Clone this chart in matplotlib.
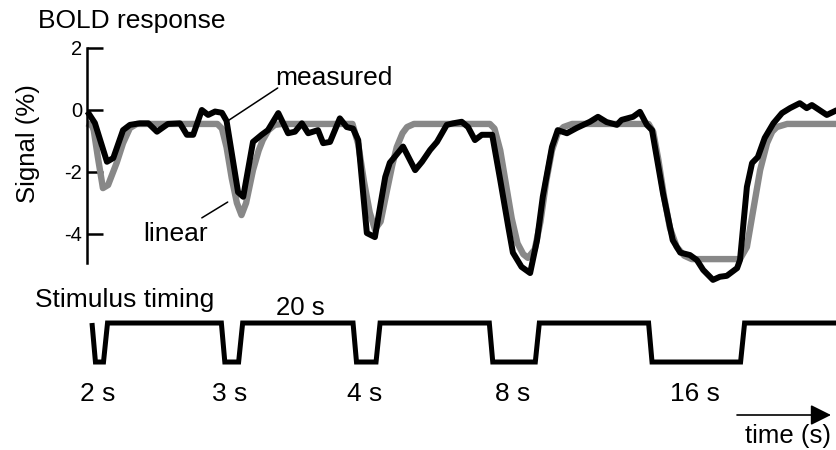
import matplotlib
matplotlib.use("Agg")
import matplotlib.pyplot as plt

plt.rcParams["font.family"] = ["Liberation Sans", "DejaVu Sans"]

# ---- data -------------------------------------------------------------
# measured BOLD signal (% change) against time (s)
t_meas = [-0.8, 0.5, 2.6, 3.7, 5.4, 6.6, 8.3, 9.8, 11.3, 13.2, 15.3, 16.5, 17.6,
          19.1, 20.2, 21.4, 22.6, 23.4, 25.4, 26.3, 28.0, 29.5, 30.6, 32.4, 34.1,
          35.3, 36.5, 37.6, 39.3, 40.2, 41.4, 43.1, 44.3, 45.4, 46.3, 47.8, 49.2,
          51.0, 51.8, 52.7, 54.1, 56.2, 57.4, 58.8, 60.0, 61.7, 62.8, 64.3, 65.4,
          66.6, 67.8, 69.6, 71.0, 72.4, 73.2, 74.7, 76.2, 77.4, 78.4, 80.0, 81.0,
          82.6, 84.3, 86.6, 88.0, 89.5, 91.3, 92.1, 94.1, 95.3, 96.5, 97.4, 99.3,
          101.0, 102.3, 104.0, 105.2, 106.3, 108.0, 109.2, 110.4, 112.2, 112.7,
          113.9, 114.8, 115.8, 117.0, 118.5, 120.0, 121.4, 123.1, 124.3, 125.2,
          127.8, 129.6]
sig_meas = [-0.05, -0.42, -1.67, -1.55, -0.65, -0.48, -0.43, -0.43, -0.70, -0.45,
            -0.43, -0.80, -0.80, 0.00, -0.16, -0.05, -0.09, -0.35, -2.65, -2.80,
            -1.03, -0.80, -0.65, -0.10, -0.75, -0.70, -0.43, -0.75, -0.65, -1.07,
            -1.03, -0.27, -0.55, -0.60, -0.97, -3.97, -4.10, -2.16, -1.70, -1.50,
            -1.18, -1.94, -1.67, -1.29, -1.03, -0.48, -0.43, -0.38, -0.55, -0.97,
            -0.80, -0.80, -2.26, -3.77, -4.60, -5.06, -5.26, -4.20, -2.80, -1.19,
            -0.65, -0.75, -0.58, -0.38, -0.22, -0.39, -0.48, -0.32, -0.22, -0.06,
            -0.48, -0.65, -2.68, -4.20, -4.60, -4.68, -4.84, -5.16, -5.48, -5.38,
            -5.35, -5.10, -4.84, -2.48, -1.71, -1.52, -0.90, -0.43, -0.10, 0.06,
            0.22, 0.06, 0.16, -0.16, 0.00]

# linear prediction (% change) against time (s)
t_lin = [-0.9, 0.0, 0.3, 1.0, 1.9, 2.8, 4.3, 5.4, 6.6, 7.8,
         21.8, 22.6, 23.4, 24.3, 25.2, 26.0, 26.8, 28.0, 29.0, 29.7, 30.7, 31.8, 33.0,
         45.3, 46.3, 47.3, 48.3, 49.2, 50.2, 51.3, 52.2, 53.0, 54.0, 54.8, 56.0,
         69.2, 70.0, 71.0, 72.0, 73.0, 74.0, 75.0, 75.8, 77.0, 78.0, 79.0, 80.0,
         81.0, 82.0, 83.5,
         96.8, 97.6, 98.5, 99.5, 100.5, 101.7, 103.0, 104.3, 112.7, 113.9, 115.0,
         116.2, 117.4, 118.3, 119.1, 120.9, 129.6]
sig_lin = [-0.43, -0.50, -0.65, -1.50, -2.52, -2.42, -1.70, -1.07, -0.58, -0.45,
           -0.45, -0.60, -1.20, -2.20, -3.00, -3.39, -3.00, -1.94, -1.30, -0.97, -0.65, -0.48, -0.45,
           -0.45, -1.10, -2.30, -3.30, -3.85, -3.60, -2.60, -1.80, -1.20, -0.75, -0.55, -0.45,
           -0.45, -0.60, -1.30, -2.40, -3.50, -4.30, -4.65, -4.77, -4.50, -3.60, -2.30, -1.30,
           -0.75, -0.55, -0.45,
           -0.45, -0.70, -1.60, -2.80, -3.80, -4.42, -4.70, -4.81, -4.81, -4.42, -3.23,
           -1.94, -1.07, -0.70, -0.55, -0.45, -0.45]

# stimulus blocks: onset (s) and duration (s)
stim_onsets = [0.0, 22.5, 45.4, 69.1, 96.8]
stim_durations = [2, 3, 4, 8, 16]
stim_labels = ["2 s", "3 s", "4 s", "8 s", "16 s"]
rest_label = "20 s"
y_ticks = [2, 0, -2, -4]

# ---- figure -----------------------------------------------------------
W, H = 837, 450
fig = plt.figure(figsize=(W / 100, H / 100), dpi=100)

t_min, t_max = -16.0, 129.57

ax = fig.add_axes([0, 0, 1, 1])
ax.set_xlim(t_min, t_max)
ax.set_ylim(-10.968, 3.548)
ax.patch.set_alpha(0)

ax.plot(t_lin, sig_lin, color="#888888", lw=4.6, solid_joinstyle="round",
        solid_capstyle="butt", zorder=2)
ax.plot(t_meas, sig_meas, color="black", lw=4.3, solid_joinstyle="round",
        solid_capstyle="butt", zorder=3)

for s in ("top", "right", "bottom"):
    ax.spines[s].set_visible(False)
ax.spines["left"].set_position(("data", -0.87))
ax.spines["left"].set_bounds(-4.94, 2)
ax.spines["left"].set_linewidth(1.8)
ax.set_xticks([])
ax.set_yticks(y_ticks)
ax.set_yticklabels([f"{v:d}" for v in y_ticks])
ax.tick_params(axis="y", direction="in", length=11.5, width=1.8, pad=3.5,
               labelsize=14.5)

# leader lines for the curve labels
ax.annotate("", xy=(23.3, -0.39), xytext=(32.3, 0.71),
            arrowprops=dict(arrowstyle="-", lw=1.1, color="black",
                            shrinkA=0, shrinkB=0))
ax.annotate("", xy=(23.6, -2.97), xytext=(19.1, -3.48),
            arrowprops=dict(arrowstyle="-", lw=1.1, color="black",
                            shrinkA=0, shrinkB=0))
ax.text(31.9, 0.80, "measured", fontsize=19, ha="left", va="baseline")
ax.text(8.9, -4.24, "linear", fontsize=19, ha="left", va="baseline")

# stimulus timing trace
ax2 = fig.add_axes([0, 0, 1, 1])
ax2.set_xlim(t_min, t_max)
ax2.set_ylim(-2.256, 9.282)
ax2.axis("off")
ax2.patch.set_alpha(0)

ramp_in, ramp_out = 0.6, 0.7
st_t, st_y = [], []
for on, dur in zip(stim_onsets, stim_durations):
    st_t += [on, on + ramp_in, on + dur, on + dur + ramp_out]
    st_y += [1, 0, 0, 1]
st_t.append(t_max + 1)
st_y.append(1)
ax2.plot(st_t, st_y, color="black", lw=3.6, solid_joinstyle="miter",
         solid_capstyle="butt", clip_on=False)

for on, dur, lab in zip(stim_onsets, stim_durations, stim_labels):
    ax2.text(on + dur / 2, -1.0, lab, fontsize=19, ha="center", va="baseline")

ax2.text(36.3, 1.2, rest_label, fontsize=18.5, ha="center", va="baseline")

# titles and axis labels
fig.text(38 / W, 1 - 28 / H, "BOLD response", fontsize=19, ha="left",
         va="baseline")
fig.text(28.5 / W, 1 - 143.5 / H, "Signal (%)", fontsize=18.5, rotation=90,
         ha="center", va="center")
fig.text(35 / W, 1 - 307 / H, "Stimulus timing", fontsize=19, ha="left",
         va="baseline")

# time arrow
fig.add_artist(matplotlib.patches.FancyArrowPatch(
    (737 / W, 1 - 415 / H), (831 / W, 1 - 415 / H),
    transform=fig.transFigure, arrowstyle="-|>,head_length=0.9,head_width=0.45",
    mutation_scale=14, lw=1.2, color="black", shrinkA=0, shrinkB=0))
fig.text(831 / W, 1 - 443 / H, "time (s)", fontsize=18.5, ha="right",
         va="baseline")

fig.savefig("out.png", dpi=100)
